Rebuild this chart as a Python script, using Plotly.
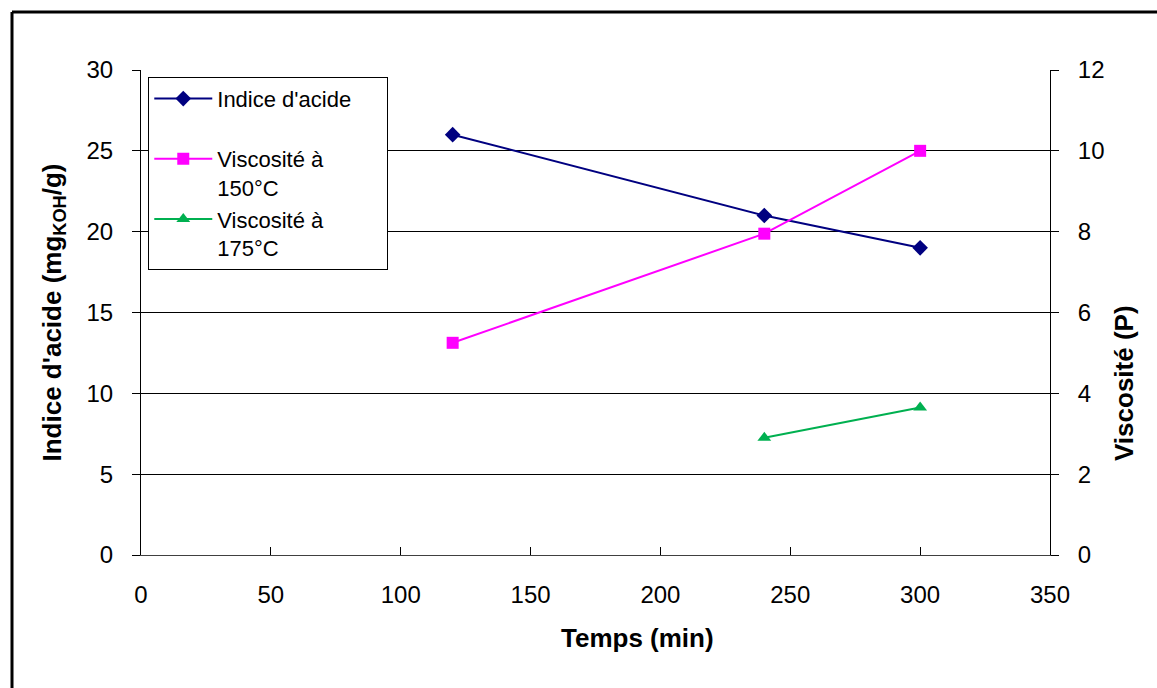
import plotly.graph_objects as go

temps_acide = [120, 240, 300]
indice_acide = [26, 21, 19]
temps_v150 = [120, 240, 300]
visc_150 = [5.25, 7.95, 10.0]
temps_v175 = [240, 300]
visc_175 = [2.9, 3.65]

FONT = "Liberation Sans, Arial, sans-serif"
NB = "\u00a0"

fig = go.Figure()
fig.add_trace(go.Scatter(x=temps_acide, y=indice_acide, mode="lines+markers",
                         name="Indice d'acide" + NB * 5 + "<br> ", line=dict(color="#000080", width=2),
                         marker=dict(symbol="diamond", size=12, color="#000080")))
fig.add_trace(go.Scatter(x=temps_v150, y=visc_150, mode="lines+markers",
                         name="Viscosité à<br>150°C", yaxis="y2",
                         line=dict(color="#FF00FF", width=2),
                         marker=dict(symbol="square", size=12, color="#FF00FF")))
fig.add_trace(go.Scatter(x=temps_v175, y=visc_175, mode="lines+markers",
                         name="Viscosité à<br>175°C", yaxis="y2",
                         line=dict(color="#00B050", width=2),
                         marker=dict(symbol="triangle-up", size=12, color="#00B050")))

fig.update_layout(
    width=1157, height=688,
    margin=dict(l=141, r=107, t=70, b=133),
    paper_bgcolor="white", plot_bgcolor="white",
    font=dict(family=FONT, size=24, color="black"),
    showlegend=True,
    legend=dict(x=0.008, y=0.986, xanchor="left", yanchor="top",
                bordercolor="black", borderwidth=1, bgcolor="white",
                font=dict(size=22, family=FONT), valign="top",
                itemwidth=58),
    xaxis=dict(range=[0, 350], dtick=50, tick0=0, showgrid=False,
               showline=True, linecolor="#404040", linewidth=1,
               ticks="inside", ticklen=8, tickcolor="black",
               tickfont=dict(size=24), zeroline=False, ticklabelstandoff=18),
    yaxis=dict(range=[0, 30], dtick=5, showgrid=True, gridcolor="black", gridwidth=1,
               showline=True, linecolor="black", linewidth=1,
               ticks="outside", ticklen=8, tickcolor="black", zeroline=False,
               tickfont=dict(size=24), ticklabelstandoff=14,
               title=dict(text="<b>Indice d'acide (mg<sub>KOH</sub>/g)</b>", font=dict(size=26), standoff=17)),
    yaxis2=dict(range=[0, 12], dtick=2, overlaying="y", side="right", showgrid=False,
                showline=True, linecolor="black", linewidth=1,
                ticks="outside", ticklen=8, tickcolor="black", zeroline=False,
                tickfont=dict(size=24), ticklabelstandoff=14),
)

# axis titles placed as in the reference
fig.add_annotation(text="<b>Temps (min)</b>", xref="paper", yref="paper",
                   x=(637 - 141) / 909, y=-(638 - 555) / 485, xanchor="center", yanchor="middle",
                   showarrow=False, font=dict(size=26, family=FONT, color="black"))
fig.add_annotation(text="<b>Viscosité (P)</b>", xref="paper", yref="paper", textangle=-90,
                   x=(1124 - 141) / 909, y=(555 - 383) / 485, xanchor="center", yanchor="middle",
                   showarrow=False, font=dict(size=26, family=FONT, color="black"))

# outer border of the chart frame (left and top edges)
fig.add_shape(type="line", xref="paper", yref="paper", x0=-129/909, x1=1.2, y0=1+58/485, y1=1+58/485,
              line=dict(color="black", width=3))
fig.add_shape(type="line", xref="paper", yref="paper", x0=-129/909, x1=-129/909, y0=-0.4, y1=1+58/485,
              line=dict(color="black", width=3))

fig.write_html("out.html", config={"displayModeBar": False},
               post_script="document.body.style.margin='0';document.body.style.overflow='hidden';")
